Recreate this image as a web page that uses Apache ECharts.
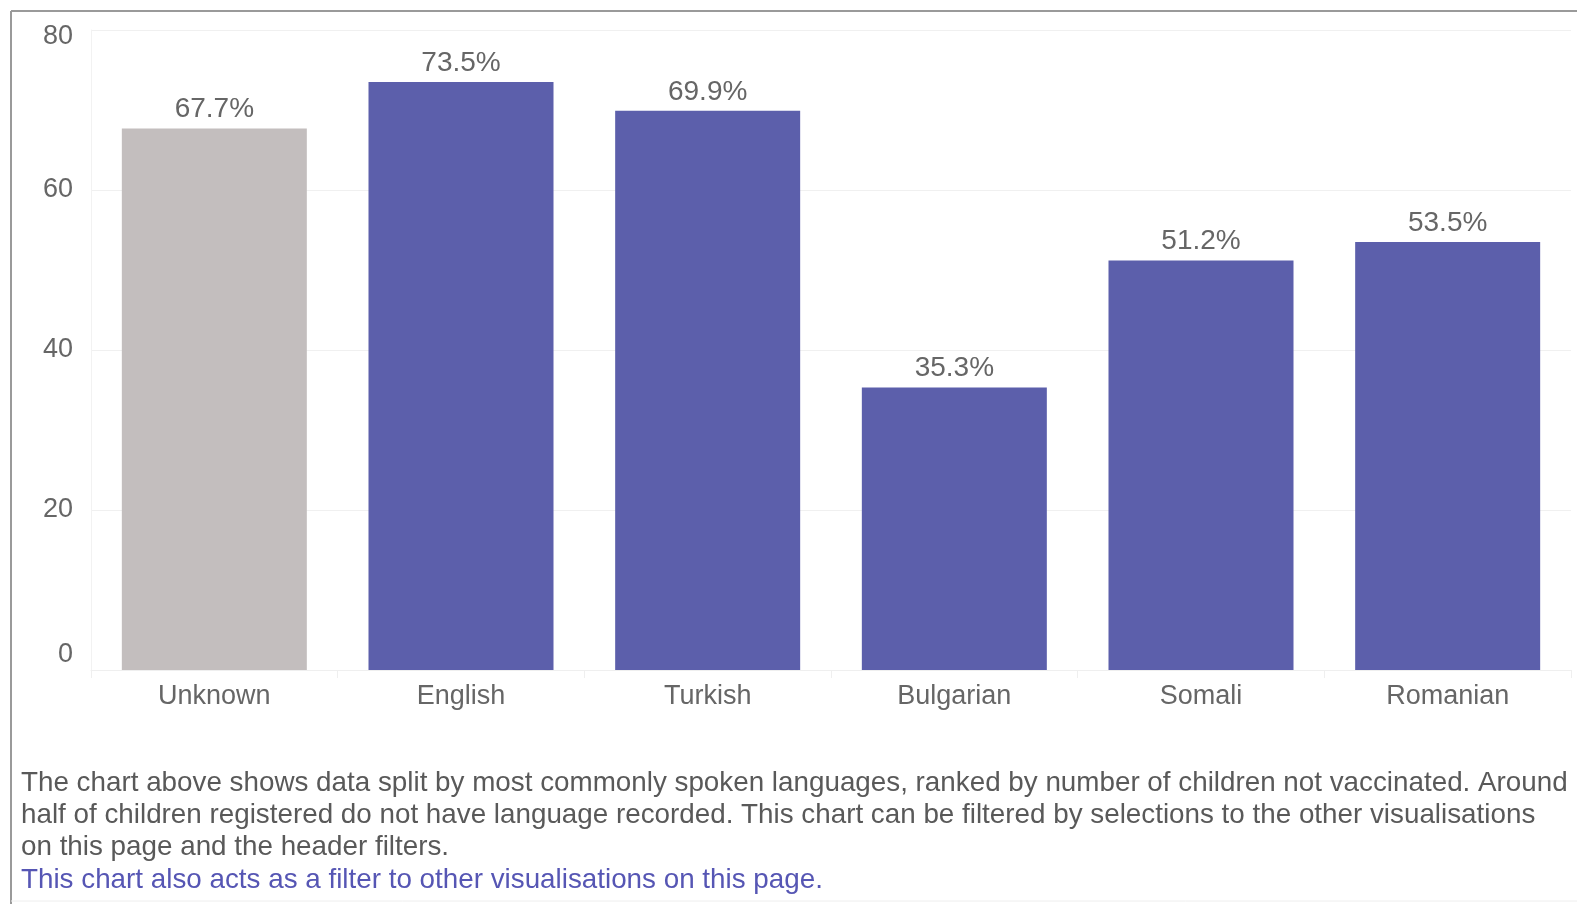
<!DOCTYPE html>
<html>
<head>
<meta charset="utf-8">
<script src="https://cdn.jsdelivr.net/npm/echarts@6/dist/echarts.min.js"></script>
<style>
html,body{margin:0;padding:0;background:#fff;}
#chart{width:1577px;height:904px;}
</style>
</head>
<body>
<div id="chart"></div>
<script>
const categories = ['Unknown', 'English', 'Turkish', 'Bulgarian', 'Somali', 'Romanian'];
const values = [67.7, 73.5, 69.9, 35.3, 51.2, 53.5];
const yTicks = [0, 20, 40, 60, 80];
const noteLines = [
  'The chart above shows data split by most commonly spoken languages, ranked by number of children not vaccinated. Around',
  'half of children registered do not have language recorded. This chart can be filtered by selections to the other visualisations',
  'on this page and the header filters.'
];
const linkLine = 'This chart also acts as a filter to other visualisations on this page.';

const chart = echarts.init(document.getElementById('chart'));
const font = "'Liberation Sans', Arial, sans-serif";
const graphics = [
  {type:'line', shape:{x1:11, y1:11, x2:1577, y2:11}, style:{stroke:'#9a9a9a', lineWidth:2}},
  {type:'line', shape:{x1:11, y1:11, x2:11, y2:904}, style:{stroke:'#9a9a9a', lineWidth:2}},
  {type:'line', shape:{x1:11, y1:901, x2:1577, y2:901}, style:{stroke:'#eeeeee', lineWidth:1}}
];
noteLines.forEach((t, i) => {
  graphics.push({type:'text', style:{x:21, y:783 + i*32, text:t, verticalAlign:'middle',
    fill:'#595959', font:'27.8px ' + font}});
});
graphics.push({type:'text', style:{x:21, y:880, text:linkLine, verticalAlign:'middle',
  fill:'#5656b4', font:'27.8px ' + font}});

chart.setOption({
  animation:false,
  grid:{left:91, right:6, top:30, bottom:234, containLabel:false},
  xAxis:{
    type:'category', data:categories,
    axisLine:{show:true, lineStyle:{color:'#efefef'}},
    axisTick:{show:true, length:8, lineStyle:{color:'#efefef'}},
    axisLabel:{color:'#666', fontSize:27, fontFamily:font, margin:13}
  },
  yAxis:{
    type:'value', min:yTicks[0], max:yTicks[yTicks.length-1], interval:20,
    axisLine:{show:true, lineStyle:{color:'#f2f2f2'}},
    axisTick:{show:false},
    axisLabel:{color:'#666', fontSize:27, fontFamily:font, margin:18,
      formatter: v => v === yTicks[0] ? '{lo|' + v + '}' : (v === yTicks[yTicks.length-1] ? '{hi|' + v + '}' : '' + v),
      rich:{
        lo:{color:'#666', fontSize:27, fontFamily:font, padding:[0,0,30,0]},
        hi:{color:'#666', fontSize:27, fontFamily:font, padding:[14,0,0,0]}
      }
    },
    splitLine:{lineStyle:{color:'#f0f0f0'}}
  },
  series:[{
    type:'bar', barCategoryGap:'25%',
    data: values.map((v, i) => ({value:v, itemStyle:{color: categories[i]==='Unknown' ? '#c3bebe' : '#5c5fab'}})),
    label:{show:true, position:'top', distance:5, color:'#666', fontSize:28, fontFamily:font,
      formatter: p => p.value.toFixed(1) + '%'}
  }],
  graphic: graphics
});
</script>
</body>
</html>
